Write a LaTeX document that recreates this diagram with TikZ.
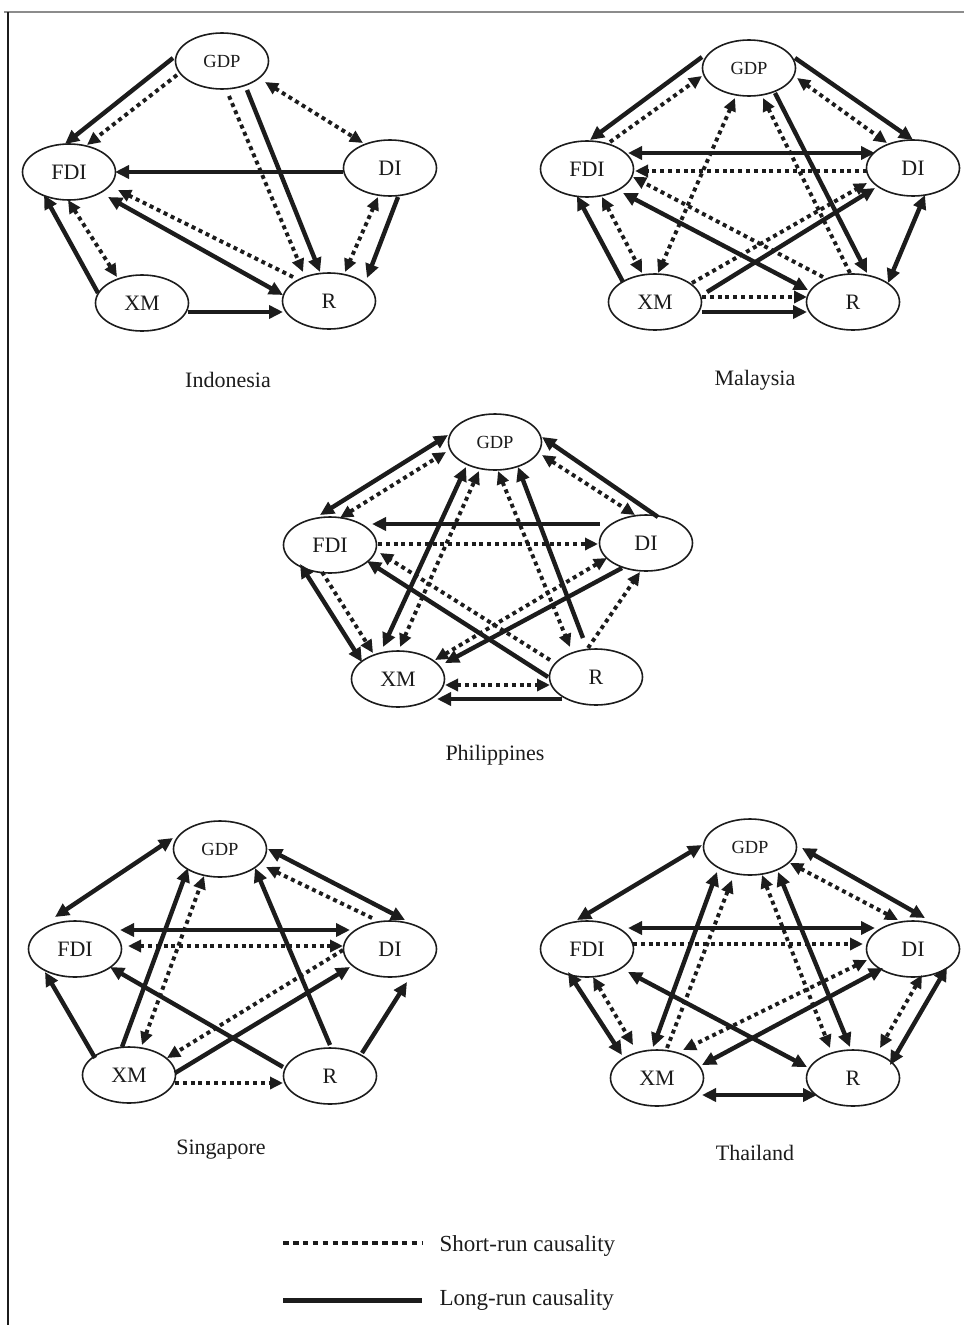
\documentclass[tikz,border=0pt]{standalone}
\usepackage{fontspec}
\setmainfont{Liberation Serif}
\usetikzlibrary{shapes.geometric,arrows.meta}
\definecolor{ink}{RGB}{28,28,28}
\definecolor{framegray}{RGB}{140,140,140}
\tikzset{
  nd/.style={ellipse, draw=ink, line width=1.6pt, minimum width=93pt, minimum height=56pt, inner sep=0pt, font=\fontsize{22}{24}\selectfont, text=ink},
  gdpnd/.style={nd, font=\fontsize{18.5}{20}\selectfont},
  lr/.style={draw=ink, line width=4.4pt, >={Triangle[length=14pt,width=13pt]}},
  sr/.style={draw=ink, line width=3.9pt, dash pattern=on 4pt off 3.8pt, >={Triangle[length=13pt,width=12pt]}},
  lbl/.style={font=\fontsize{22}{24}\selectfont, text=ink},
  leg/.style={font=\fontsize{23}{26}\selectfont, text=ink, anchor=west}
}
\begin{document}
\begin{tikzpicture}[x=1pt,y=-1pt]
\useasboundingbox (0,0) rectangle (964,1325);
\fill[white] (0,0) rectangle (964,1325);
% frame
\coordinate (ft1) at (4,12); \coordinate (ft2) at (964,12);
\coordinate (fl1) at (8,12); \coordinate (fl2) at (8,1325);
\draw[framegray, line width=1.6pt] (ft1) -- (ft2);
\draw[ink, line width=1.4pt] (fl1) -- (fl2);

% ---------------- Indonesia
\node[gdpnd] (iG) at (222,61) {GDP};
\node[nd] (iF) at (69,172) {FDI};
\node[nd] (iD) at (390,168) {DI};
\node[nd] (iX) at (142,303) {XM};
\node[nd] (iR) at (329,301) {R};
\node[lbl] (iL) at (228,380) {Indonesia};
\draw[lr,->] ([shift={(-49,-3)}]iG.center) -- ([shift={(-4,-28)}]iF.center);
\draw[sr,->] ([shift={(-45,14)}]iG.center) -- ([shift={(18,-27)}]iF.center);
\draw[lr,->] ([shift={(-47,4)}]iD.center) -- ([shift={(46,0)}]iF.center);
\draw[sr,<->] ([shift={(43,21)}]iG.center) -- ([shift={(-27,-25)}]iD.center);
\draw[sr,->] ([shift={(7,35)}]iG.center) -- ([shift={(-26,-29)}]iR.center);
\draw[lr,->] ([shift={(25,29)}]iG.center) -- ([shift={(-9,-29)}]iR.center);
\draw[sr,->] ([shift={(-36,-24)}]iR.center) -- ([shift={(49,18)}]iF.center);
\draw[lr,<->] ([shift={(39,25)}]iF.center) -- ([shift={(-46,-6)}]iR.center);
\draw[sr,<->] ([shift={(-1,28)}]iF.center) -- ([shift={(-25,-26)}]iX.center);
\draw[lr,->] ([shift={(-44,-10)}]iX.center) -- ([shift={(-25,23)}]iF.center);
\draw[lr,->] ([shift={(46,9)}]iX.center) -- ([shift={(-46,11)}]iR.center);
\draw[sr,<->] ([shift={(-12,29)}]iD.center) -- ([shift={(16,-29)}]iR.center);
\draw[lr,->] ([shift={(8,29)}]iD.center) -- ([shift={(38,-23)}]iR.center);

% ---------------- Malaysia
\node[gdpnd] (mG) at (749,68) {GDP};
\node[nd] (mF) at (587,169) {FDI};
\node[nd] (mD) at (913,168) {DI};
\node[nd] (mX) at (655,302) {XM};
\node[nd] (mR) at (853,302) {R};
\node[lbl] (mL) at (755,380) {Malaysia};
\draw[lr,->] ([shift={(-47,-11)}]mG.center) -- ([shift={(3,-29)}]mF.center);
\draw[sr,->] ([shift={(23,-27)}]mF.center) -- ([shift={(-47,8)}]mG.center);
\draw[lr,->] ([shift={(46,-10)}]mG.center) -- ([shift={(0,-28)}]mD.center);
\draw[sr,<->] ([shift={(48,10)}]mG.center) -- ([shift={(-26,-25)}]mD.center);
\draw[sr,<->] ([shift={(-14,30)}]mG.center) -- ([shift={(3,-29)}]mX.center);
\draw[sr,->] ([shift={(-3,-29)}]mR.center) -- ([shift={(14,30)}]mG.center);
\draw[lr,->] ([shift={(26,25)}]mG.center) -- ([shift={(14,-29)}]mR.center);
\draw[lr,<->] ([shift={(41,-16)}]mF.center) -- ([shift={(-38,-15)}]mD.center);
\draw[sr,->] ([shift={(-46,3)}]mD.center) -- ([shift={(48,2)}]mF.center);
\draw[sr,->] ([shift={(-30,-25)}]mR.center) -- ([shift={(46,8)}]mF.center);
\draw[lr,<->] ([shift={(36,24)}]mF.center) -- ([shift={(-45,-12)}]mR.center);
\draw[lr,->] ([shift={(-32,-20)}]mX.center) -- ([shift={(-10,27)}]mF.center);
\draw[sr,<->] ([shift={(15,28)}]mF.center) -- ([shift={(-13,-29)}]mX.center);
\draw[sr,->] ([shift={(37,-19)}]mX.center) -- ([shift={(-46,15)}]mD.center);
\draw[lr,->] ([shift={(52,-10)}]mX.center) -- ([shift={(-38,20)}]mD.center);
\draw[sr,->] ([shift={(47,-5)}]mX.center) -- ([shift={(-46,-5)}]mR.center);
\draw[lr,->] ([shift={(47,10)}]mX.center) -- ([shift={(-46,10)}]mR.center);
\draw[lr,<->] ([shift={(12,27)}]mD.center) -- ([shift={(35,-19)}]mR.center);

% ---------------- Philippines
\node[gdpnd] (pG) at (495,442) {GDP};
\node[nd] (pF) at (330,545) {FDI};
\node[nd] (pD) at (646,543) {DI};
\node[nd] (pX) at (398,679) {XM};
\node[nd] (pR) at (596,677) {R};
\node[lbl] (pL) at (495,755) {Philippines};
\draw[lr,<->] ([shift={(-10,-30)}]pF.center) -- ([shift={(-47,-7)}]pG.center);
\draw[sr,<->] ([shift={(10,-27)}]pF.center) -- ([shift={(-49,10)}]pG.center);
\draw[lr,->] ([shift={(12,-26)}]pD.center) -- ([shift={(47,-5)}]pG.center);
\draw[sr,<->] ([shift={(47,13)}]pG.center) -- ([shift={(-11,-28)}]pD.center);
\draw[lr,->] ([shift={(-46,-19)}]pD.center) -- ([shift={(42,-21)}]pF.center);
\draw[sr,->] ([shift={(48,-1)}]pF.center) -- ([shift={(-48,1)}]pD.center);
\draw[lr,<->] ([shift={(-15,-32)}]pX.center) -- ([shift={(-29,25)}]pG.center);
\draw[sr,<->] ([shift={(2,-32)}]pX.center) -- ([shift={(-16,29)}]pG.center);
\draw[sr,<->] ([shift={(3,29)}]pG.center) -- ([shift={(-26,-30)}]pR.center);
\draw[lr,->] ([shift={(-13,-39)}]pR.center) -- ([shift={(23,25)}]pG.center);
\draw[sr,->] ([shift={(-46,-17)}]pR.center) -- ([shift={(50,8)}]pF.center);
\draw[lr,->] ([shift={(-48,0)}]pR.center) -- ([shift={(37,16)}]pF.center);
\draw[lr,<->] ([shift={(-30,19)}]pF.center) -- ([shift={(-36,-17)}]pX.center);
\draw[sr,->] ([shift={(-8,27)}]pF.center) -- ([shift={(-25,-26)}]pX.center);
\draw[sr,<->] ([shift={(-39,15)}]pD.center) -- ([shift={(37,-19)}]pX.center);
\draw[lr,->] ([shift={(-24,25)}]pD.center) -- ([shift={(47,-16)}]pX.center);
\draw[sr,->] ([shift={(-8,-29)}]pR.center) -- ([shift={(-6,29)}]pD.center);
\draw[sr,<->] ([shift={(47,6)}]pX.center) -- ([shift={(-46,8)}]pR.center);
\draw[lr,->] ([shift={(-34,22)}]pR.center) -- ([shift={(39,20)}]pX.center);

% ---------------- Singapore
\node[gdpnd] (sG) at (220,849) {GDP};
\node[nd] (sF) at (75,949) {FDI};
\node[nd] (sD) at (390,949) {DI};
\node[nd] (sX) at (129,1075) {XM};
\node[nd] (sR) at (330,1076) {R};
\node[lbl] (sL) at (221,1150) {Singapore};
\draw[lr,<->] ([shift={(-20,-32)}]sF.center) -- ([shift={(-47,-11)}]sG.center);
\draw[lr,<->] ([shift={(48,0)}]sG.center) -- ([shift={(15,-29)}]sD.center);
\draw[sr,->] ([shift={(-18,-31)}]sD.center) -- ([shift={(46,18)}]sG.center);
\draw[lr,<->] ([shift={(45,-19)}]sF.center) -- ([shift={(-40,-19)}]sD.center);
\draw[sr,<->] ([shift={(53,-3)}]sF.center) -- ([shift={(-47,-3)}]sD.center);
\draw[lr,->] ([shift={(-7,-28)}]sX.center) -- ([shift={(-32,19)}]sG.center);
\draw[sr,<->] ([shift={(13,-30)}]sX.center) -- ([shift={(-16,27)}]sG.center);
\draw[lr,->] ([shift={(0,-31)}]sR.center) -- ([shift={(35,19)}]sG.center);
\draw[lr,->] ([shift={(-47,-9)}]sR.center) -- ([shift={(35,18)}]sF.center);
\draw[lr,->] ([shift={(-34,-17)}]sX.center) -- ([shift={(-30,23)}]sF.center);
\draw[sr,->] ([shift={(-47,1)}]sD.center) -- ([shift={(38,-17)}]sX.center);
\draw[lr,->] ([shift={(46,-2)}]sX.center) -- ([shift={(-40,18)}]sD.center);
\draw[sr,->] ([shift={(46,8)}]sX.center) -- ([shift={(-47,7)}]sR.center);
\draw[lr,->] ([shift={(32,-23)}]sR.center) -- ([shift={(17,33)}]sD.center);

% ---------------- Thailand
\node[gdpnd] (tG) at (750,847) {GDP};
\node[nd] (tF) at (587,949) {FDI};
\node[nd] (tD) at (913,949) {DI};
\node[nd] (tX) at (657,1078) {XM};
\node[nd] (tR) at (853,1078) {R};
\node[lbl] (tL) at (755,1153) {Thailand};
\draw[lr,<->] ([shift={(-10,-29)}]tF.center) -- ([shift={(-48,-2)}]tG.center);
\draw[lr,<->] ([shift={(52,1)}]tG.center) -- ([shift={(12,-31)}]tD.center);
\draw[sr,<->] ([shift={(40,16)}]tG.center) -- ([shift={(-15,-29)}]tD.center);
\draw[lr,<->] ([shift={(41,-21)}]tF.center) -- ([shift={(-38,-21)}]tD.center);
\draw[sr,->] ([shift={(46,-5)}]tF.center) -- ([shift={(-50,-5)}]tD.center);
\draw[lr,<->] ([shift={(-4,-31)}]tX.center) -- ([shift={(-33,25)}]tG.center);
\draw[sr,->] ([shift={(10,-30)}]tX.center) -- ([shift={(-18,33)}]tG.center);
\draw[sr,<->] ([shift={(12,28)}]tG.center) -- ([shift={(-23,-30)}]tR.center);
\draw[lr,<->] ([shift={(28,25)}]tG.center) -- ([shift={(-3,-31)}]tR.center);
\draw[lr,<->] ([shift={(41,23)}]tF.center) -- ([shift={(-46,-11)}]tR.center);
\draw[lr,<->] ([shift={(-19,23)}]tF.center) -- ([shift={(-35,-23)}]tX.center);
\draw[sr,<->] ([shift={(6,28)}]tF.center) -- ([shift={(-24,-33)}]tX.center);
\draw[sr,<->] ([shift={(-46,11)}]tD.center) -- ([shift={(26,-28)}]tX.center);
\draw[lr,<->] ([shift={(-30,19)}]tD.center) -- ([shift={(45,-13)}]tX.center);
\draw[sr,<->] ([shift={(9,26)}]tD.center) -- ([shift={(27,-30)}]tR.center);
\draw[lr,<->] ([shift={(34,18)}]tD.center) -- ([shift={(37,-13)}]tR.center);
\draw[lr,<->] ([shift={(45,17)}]tX.center) -- ([shift={(-36,17)}]tR.center);

% ---------------- Legend
\coordinate (ls1) at (283,1243); \coordinate (ls2) at (422,1243);
\coordinate (ll1) at (283,1300); \coordinate (ll2) at (422,1300);
\draw[ink, line width=4pt, dash pattern=on 5.6pt off 4.3pt] (ls1) -- (ls2);
\draw[ink, line width=5pt] (ll1) -- (ll2);
\node[leg] (lst) at (436,1246) {Short-run causality};
\node[leg] (llt) at (436,1300) {Long-run causality};
\end{tikzpicture}
\end{document}
